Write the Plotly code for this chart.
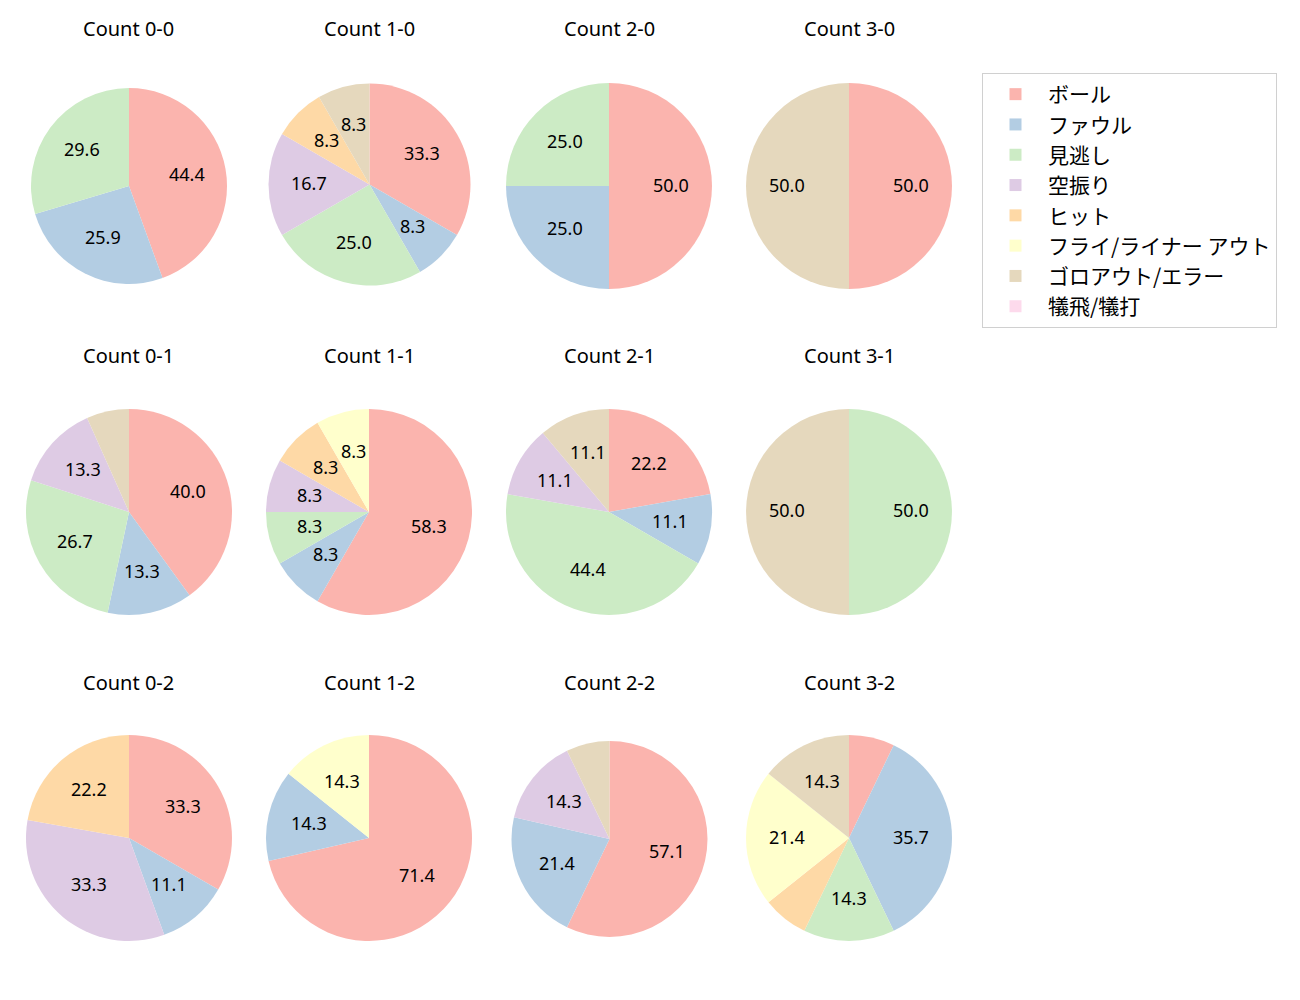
import math
import plotly.graph_objects as go

# ---- data ----
labels = ["ボール", "ファウル", "見逃し", "空振り", "ヒット",
          "フライ/ライナー アウト", "ゴロアウト/エラー", "犠飛/犠打"]
colors = ["#fbb4ae", "#b3cde3", "#ccebc5", "#decbe4", "#fed9a6",
          "#ffffcc", "#e5d8bd", "#fddaec"]

count_names = ["0-0", "1-0", "2-0", "3-0",
               "0-1", "1-1", "2-1", "3-1",
               "0-2", "1-2", "2-2", "3-2"]
c00 = [12, 7, 8, 0, 0, 0, 0, 0]
c10 = [4, 1, 3, 2, 1, 0, 1, 0]
c20 = [2, 1, 1, 0, 0, 0, 0, 0]
c30 = [1, 0, 0, 0, 0, 0, 1, 0]
c01 = [6, 2, 4, 2, 0, 0, 1, 0]
c11 = [7, 1, 1, 1, 1, 1, 0, 0]
c21 = [2, 1, 4, 1, 0, 0, 1, 0]
c31 = [0, 0, 1, 0, 0, 0, 1, 0]
c02 = [3, 1, 0, 3, 2, 0, 0, 0]
c12 = [5, 1, 0, 0, 0, 1, 0, 0]
c22 = [8, 3, 0, 2, 0, 0, 1, 0]
c32 = [1, 5, 2, 0, 1, 3, 2, 0]
all_values = [c00, c10, c20, c30, c01, c11, c21, c31, c02, c12, c22, c32]

# ---- layout (page pixels; the page body has an 8px margin) ----
W, H = 1300, 1000
OFF = 8
col_cx = [129, 369, 609, 849]
row_cy = [186, 512, 838]
title_y = [28, 355, 682]
radius = {"0-0": 98, "1-0": 101, "2-2": 98}
center_fix = {"2-2": (609.5, 839), "1-0": (369.5, 184.5)}
FONT = "Noto Sans, Noto Sans CJK JP"


def px(x):
    return (x - OFF) / W


def py(y):
    return 1 - (y - OFF) / H


fig = go.Figure()
annotations = []
for idx, (name, vals) in enumerate(zip(count_names, all_values)):
    r_i, c_i = divmod(idx, 4)
    cx, cy = center_fix.get(name, (col_cx[c_i], row_cy[r_i]))
    R = radius.get(name, 103)
    fig.add_trace(go.Pie(
        labels=labels, values=vals, sort=False, direction="clockwise",
        rotation=0, textinfo="none", hoverinfo="label+percent",
        marker=dict(colors=colors, line=dict(width=0)),
        domain=dict(x=[px(cx - R), px(cx + R)],
                    y=[py(cy + R), py(cy - R)]),
        showlegend=True, name=name,
    ))
    total = sum(vals)
    cum = 0
    for v in vals:
        if v > 0:
            pct = 100 * v / total
            if pct >= 8:
                theta = math.radians(90 - 360 * (cum + v / 2) / total)
                tx = cx + 0.6 * R * math.cos(theta)
                ty = cy - 0.6 * R * math.sin(theta) - 1.5
                annotations.append(dict(
                    x=px(tx), y=py(ty), xref="paper", yref="paper",
                    text=f"{pct:.1f}", showarrow=False,
                    font=dict(size=18, color="black", family=FONT),
                    xanchor="center", yanchor="middle"))
        cum += v
    annotations.append(dict(
        x=px(col_cx[c_i]), y=py(title_y[r_i]), xref="paper", yref="paper",
        text=f"Count {name}", showarrow=False,
        font=dict(size=20, color="black", family=FONT),
        xanchor="center", yanchor="middle"))

fig.update_layout(
    width=W, height=H,
    margin=dict(l=0, r=0, t=0, b=0),
    paper_bgcolor="white", plot_bgcolor="white",
    font=dict(family=FONT, color="black"),
    annotations=annotations,
    legend=dict(x=px(982), y=py(73), xanchor="left", yanchor="top",
                bordercolor="#d0d0d0", borderwidth=1, bgcolor="white",
                font=dict(size=21, family="Noto Sans CJK JP"), itemwidth=55,
                tracegroupgap=0),
)

fig.write_html("out.html")
